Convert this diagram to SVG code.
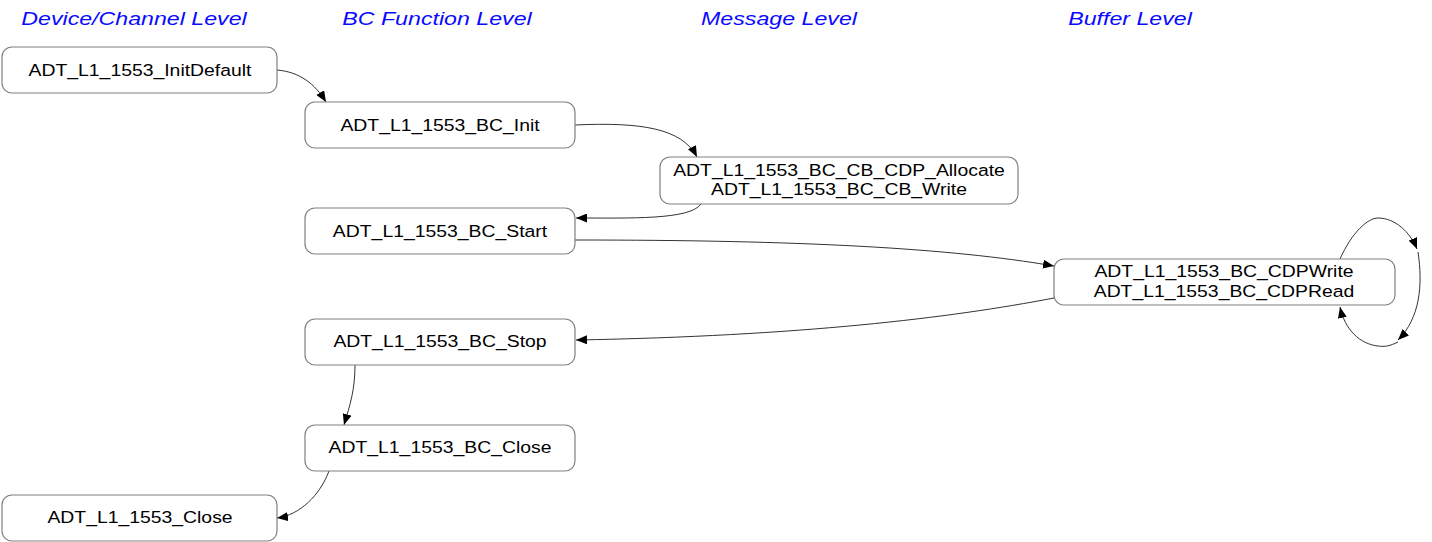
<svg xmlns="http://www.w3.org/2000/svg" width="1432" height="542" viewBox="0 0 1432 542">
<style>
.n{fill:#fff;stroke:#808080;stroke-width:1.2}
.t{font-family:"Liberation Sans",Arial,sans-serif;font-size:17px;fill:#000;text-anchor:middle}
.h{font-family:"Liberation Sans",Arial,sans-serif;font-size:19px;font-style:italic;fill:#0a0aff;text-anchor:middle}
.e{fill:none;stroke:#333;stroke-width:1;marker-end:url(#a)}
</style>
<defs>
<marker id="a" viewBox="0 0 11 9" refX="11" refY="4.5" markerWidth="11" markerHeight="9" markerUnits="userSpaceOnUse" orient="auto">
<path d="M0,0 L11,4.5 L0,9 Z" fill="#000"/>
</marker>
</defs>
<rect width="1432" height="542" fill="#fff"/>
<g id="headers">
<text class="h" transform="translate(134,25) scale(1.22,1)">Device/Channel Level</text>
<text class="h" transform="translate(437,25) scale(1.22,1)">BC Function Level</text>
<text class="h" transform="translate(779,25) scale(1.22,1)">Message Level</text>
<text class="h" transform="translate(1130,25) scale(1.22,1)">Buffer Level</text>
</g>
<g id="connectors">
<path class="e" d="M277,70 C300,72 315,84 326,102"/>
<path class="e" d="M575,125 C640,122 682,128 697,157"/>
<path class="e" d="M701,204 C690,220 630,218 576,218"/>
<path class="e" d="M575,240 C800,240 950,248 1054,266"/>
<path class="e" d="M1054,298 C950,318 800,336 576,340"/>
<path class="e" d="M1340,259 C1352,232 1368,218 1378,218 C1395,218 1410,232 1417,249"/>
<path class="e" d="M1418,252 C1423,285 1420,318 1398,340"/>
<path class="e" d="M1398,342 C1390,346 1385,347 1378,346 C1360,344 1345,330 1340,307"/>
<path class="e" d="M355,365 C355,390 350,405 344,425"/>
<path class="e" d="M329,471 C320,495 300,515 277,518"/>
</g>
<g id="n1"><rect class="n" x="2" y="47" width="275" height="46" rx="10"/><text class="t" transform="translate(140,76) scale(1.14,1)">ADT_L1_1553_InitDefault</text></g>
<g id="n2"><rect class="n" x="305" y="102" width="270" height="46" rx="10"/><text class="t" transform="translate(440,131) scale(1.14,1)">ADT_L1_1553_BC_Init</text></g>
<g id="n3"><rect class="n" x="660" y="157" width="358" height="47" rx="10"/><text class="t" transform="translate(839,176) scale(1.14,1)">ADT_L1_1553_BC_CB_CDP_Allocate</text><text class="t" transform="translate(839,195) scale(1.14,1)">ADT_L1_1553_BC_CB_Write</text></g>
<g id="n4"><rect class="n" x="305" y="208" width="270" height="46" rx="10"/><text class="t" transform="translate(440,237) scale(1.14,1)">ADT_L1_1553_BC_Start</text></g>
<g id="n5"><rect class="n" x="1054" y="259" width="341" height="46" rx="10"/><text class="t" transform="translate(1224,277) scale(1.14,1)">ADT_L1_1553_BC_CDPWrite</text><text class="t" transform="translate(1224,297) scale(1.14,1)">ADT_L1_1553_BC_CDPRead</text></g>
<g id="n6"><rect class="n" x="305" y="319" width="270" height="46" rx="10"/><text class="t" transform="translate(440,347) scale(1.14,1)">ADT_L1_1553_BC_Stop</text></g>
<g id="n7"><rect class="n" x="305" y="425" width="270" height="46" rx="10"/><text class="t" transform="translate(440,453) scale(1.14,1)">ADT_L1_1553_BC_Close</text></g>
<g id="n8"><rect class="n" x="2" y="495" width="275" height="46" rx="10"/><text class="t" transform="translate(140,523) scale(1.14,1)">ADT_L1_1553_Close</text></g>
</svg>
